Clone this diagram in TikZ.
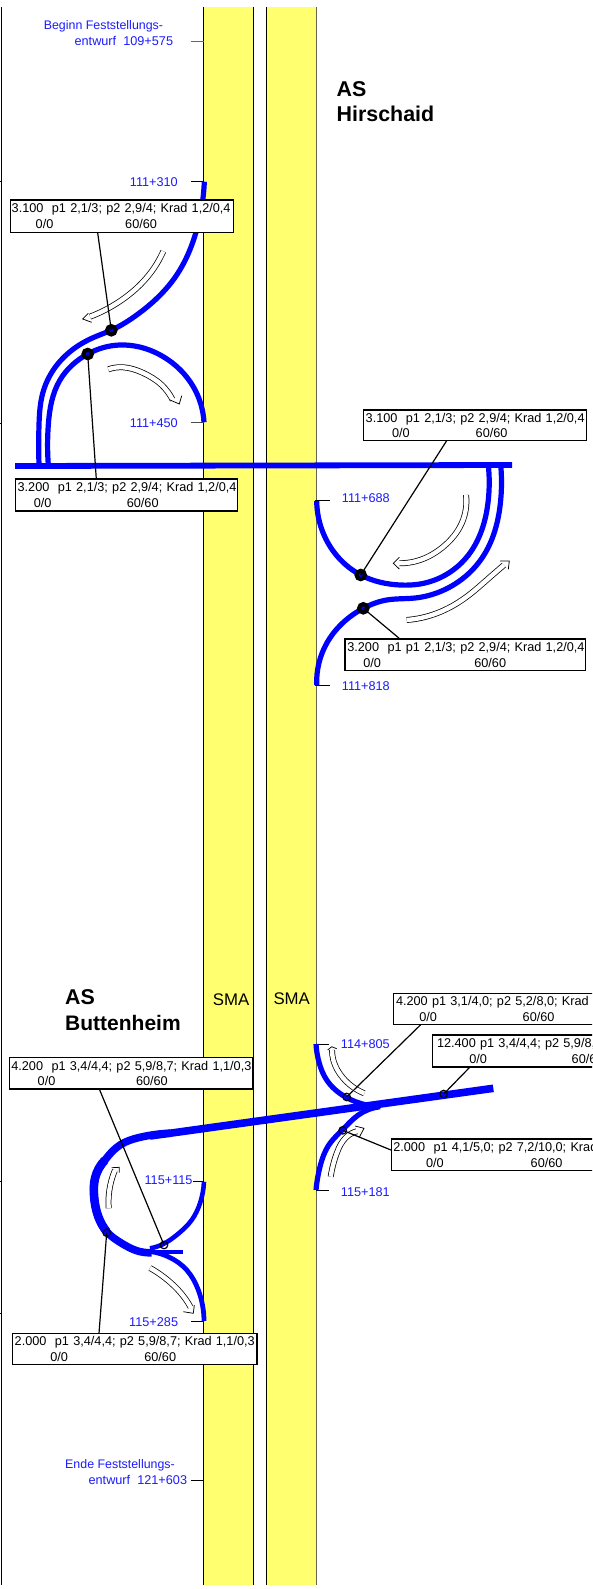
\documentclass[tikz,border=0pt]{standalone}
\usepackage{fontspec}
\usetikzlibrary{hobby}
\setmainfont{Liberation Sans}
\definecolor{stripy}{HTML}{FFFF70}
\definecolor{stripedge}{HTML}{66664A}
\definecolor{road}{HTML}{0000FF}
\definecolor{kmtext}{HTML}{1C1CFF}
\tikzset{
  road/.style={draw=road,line width=#1,line join=round,use Hobby shortcut},
  road/.default=5.2pt,
  boxnode/.style={draw=black,fill=white,line width=1.3pt,inner sep=0pt,outer sep=0pt,anchor=north west,align=left,font=\fontsize{12.7}{15.6}\selectfont},
  kmlabel/.style={text=kmtext,inner sep=0pt,font=\fontsize{12.7}{14.3}\selectfont},
  kmtitle/.style={text=kmtext,inner sep=0pt,font=\fontsize{12.4}{14.3}\selectfont},
  title/.style={inner sep=0pt,anchor=west,font=\fontsize{21.4}{25}\selectfont\bfseries},
  sma/.style={inner sep=0pt,anchor=west,font=\fontsize{16.8}{20}\selectfont},
  tickline/.style={draw=black,line width=.8pt},
  leader/.style={draw=black,line width=1.2pt},
  bigdot/.style={circle,draw=black,fill=road,line width=4pt,inner sep=0pt,minimum size=8.5pt},
  smalldot/.style={circle,draw=black,line width=1.2pt,inner sep=0pt,minimum size=7.5pt},
  shaft/.style={draw=black,line width=.75pt,double=white,double distance=4.4pt,use Hobby shortcut},
  head/.style={draw=black,fill=white,line width=.75pt,line join=miter},
}
\newcommand{\boxlines}[5]{\mbox{\hspace*{#1}#2}\\\mbox{\rlap{\hspace*{#4}#3}\hspace*{#5}60/60}}
\newcommand{\hollowarrow}[4]{%
  \draw[shaft] #1;
  \draw[head] #3 -- #2 -- #4;
}
\begin{document}
\begin{tikzpicture}[x=1pt,y=-1pt]
\clip (0,0) rectangle (592,1589);
\fill[white] (0,0) rectangle (592,1589);
% strips
\fill[stripy] (203.7,7) rectangle (253.7,1585);
\fill[stripy] (266.5,7) rectangle (316.8,1585);
\draw[black,line width=1pt] (203.7,7) -- (203.7,1585);
\draw[black,line width=1pt] (253.7,7) -- (253.7,1585);
\draw[black,line width=1pt] (266.5,7) -- (266.5,1585);
\draw[stripedge,line width=1.2pt] (316.8,7) -- (316.8,1585);
% left border
\draw[black,line width=1pt] (1.7,7) -- (1.7,1585);
\foreach \yy in {181.5,423,1181,1313}{\draw[black,line width=.8pt] (0,\yy) -- (1.7,\yy);}
% ticks
\draw[tickline,draw=black!60] (190.8,41) -- (203.7,41);
\draw[tickline] (190.8,181.7) -- (204,181.7);
\draw[tickline,draw=black!70] (190.8,422.5) -- (204,422.5);
\draw[tickline] (315,500) -- (330,500);
\draw[tickline] (315,685) -- (330,685);
\draw[tickline] (316,1044) -- (328.7,1044);
\draw[tickline] (316,1190.7) -- (328.7,1190.7);
\draw[tickline] (192.7,1181) -- (204,1181);
\draw[tickline] (191,1321) -- (204,1321);
\draw[tickline] (191,1480) -- (204,1480);
% road curves
\draw[draw=road,line width=5.8pt] (15.2,466) -- (512,465);
\draw[road] (204.3,181.7) .. (195.7,233.3) .. (176.7,275) .. (136.7,315) .. (111.7,330) .. (91.7,338.3) .. (70,351.7) .. (53.3,370) .. (42.7,393.3) .. (39,425) .. (39,465);
\draw[road] (48.3,465) .. (48.3,425) .. (60,380) .. (87.7,354) .. (106.7,346.7) .. (125,345) .. (163.3,356.7) .. (193.3,386.7) .. (204,422.3);
\draw[road] (488.3,465) .. (488.3,500) .. (466,558) .. (420,584) .. (400,585) .. (360.7,575) .. (324,535) .. (316.7,501);
\draw[road] (500.7,465) .. (500.7,500) .. (482,558) .. (440,591.7) .. (415,598) .. (386.7,600) .. (363.3,608.3) .. (326.7,643.3) .. (316.7,685);
\draw[draw=road,line width=7.6pt] (493.3,1088.3) -- (150,1136);
\draw[road=7.6pt] (170,1133.2) .. (140,1137.3) .. (120,1145) .. (105,1160) .. (95,1178.3) .. (94,1195) .. (98.3,1216.7) .. (106.7,1231.7) .. (121.7,1243.3) .. (136.7,1250.7) .. (151.7,1252.7);
\draw[road=8.6pt] (105,1160) .. (95,1178.3) .. (94,1195) .. (98.3,1216.7) .. (106.7,1231.7);
\draw[draw=road,line width=4.4pt] (146.7,1251.7) -- (183.3,1251.7);
\draw[road=4.8pt] (151.7,1251.7) .. (168.3,1256.7) .. (186.7,1270) .. (198.3,1290) .. (204,1321);
\draw[road=4.6pt] (204,1181.7) .. (200,1203.3) .. (191.7,1220) .. (176.7,1235) .. (163.3,1244) .. (150,1248.3);
\draw[road] (316,1044) .. (319.3,1063.3) .. (326.7,1080) .. (345,1096.7) .. (366.7,1105) .. (378.3,1106.7);
\draw[road] (316,1190) .. (320,1166.7) .. (330,1143.3) .. (342.3,1130) .. (358.3,1115) .. (380,1106.7);
% hollow arrows
\hollowarrow{(163.3,251.3) .. (151,272.3) .. (118.3,302.3) .. (90,316.7)}{(82.7,319)}{(88.3,313.3)}{(91.7,322.3)}
\hollowarrow{(108.3,369.3) .. (123.3,367.3) .. (141.7,372.3) .. (161.7,385) .. (172.7,400)}{(179.3,404)}{(170,400)}{(181.7,395.7)}
\hollowarrow{(466,495) .. (461.7,523.3) .. (443.3,546.7) .. (420,560) .. (399,563.3)}{(393.3,563.3)}{(399.3,557.3)}{(399.3,569)}
\hollowarrow{(406.7,620) .. (436.7,613.3) .. (466.7,596.7) .. (486.7,580) .. (504,565)}{(509.3,561)}{(500,561)}{(508.3,569.3)}
\hollowarrow{(364.3,1093.3) .. (343.3,1078.3) .. (333.3,1060) .. (332,1050)}{(331.7,1046.7)}{(327.7,1050)}{(336.7,1048.7)}
\hollowarrow{(330.7,1176.7) .. (336.7,1153.3) .. (346.7,1136.7) .. (358,1131)}{(364,1128.3)}{(355,1126)}{(359.3,1137.3)}
\hollowarrow{(108.7,1208.3) .. (109.3,1190.7) .. (115,1170)}{(119.3,1167.3)}{(111.7,1167.7)}{(119.3,1172.7)}
\hollowarrow{(150,1268) .. (170.7,1282.7) .. (185,1298.3) .. (191.7,1309.3)}{(193.3,1313.3)}{(183.3,1311.7)}{(194.3,1305)}
% dots
\node[bigdot] (d1) at (111.3,330.3) {};
\node[bigdot] (d2) at (87.7,354) {};
\node[bigdot] (d3) at (360.7,575) {};
\node[bigdot] (d4) at (363.3,608.3) {};
\node[smalldot] (d5) at (346.7,1097) {};
\node[smalldot] (d6) at (443.7,1094) {};
\node[smalldot] (d7) at (342.7,1130.3) {};
\node[smalldot] (d8) at (164,1245) {};
\node[smalldot] (d9) at (106.7,1232.7) {};
% boxes
\node[boxnode,minimum width=223pt,minimum height=32.5pt,text width=223pt] (bA) at (10.2,200) {\boxlines{1.5pt}{3.100\ \ p1 2,1/3; p2 2,9/4; Krad 1,2/0,4}{0/0}{25.5pt}{115pt}};
\node[boxnode,minimum width=222pt,minimum height=32pt,text width=222pt] (bB) at (15.8,479) {\boxlines{1.8pt}{3.200\ \ p1 2,1/3; p2 2,9/4; Krad 1,2/0,4}{0/0}{18pt}{111pt}};
\node[boxnode,minimum width=223.4pt,minimum height=30.7pt,text width=223.4pt] (bC) at (363.3,410) {\boxlines{2.4pt}{3.100\ \ p1 2,1/3; p2 2,9/4; Krad 1,2/0,4}{0/0}{28.7pt}{112.4pt}};
\node[boxnode,minimum width=240.3pt,minimum height=31.7pt,text width=240.3pt] (bD) at (345,639) {\boxlines{2.3pt}{3.200\ \ p1 p1 2,1/3; p2 2,9/4; Krad 1,2/0,4}{0/0}{18.3pt}{129.3pt}};
\node[boxnode,minimum width=260pt,minimum height=31.4pt,text width=260pt] (bE) at (393.7,993.3) {\boxlines{2.3pt}{4.200 p1 3,1/4,0; p2 5,2/8,0; Krad}{0/0}{25.6pt}{129pt}};
\node[boxnode,minimum width=260pt,minimum height=32pt,text width=260pt] (bF) at (432.7,1035) {\boxlines{4.3pt}{12.400 p1 3,4/4,4; p2 5,9/8,}{0/0}{36.6pt}{139pt}};
\node[boxnode,minimum width=260pt,minimum height=31.3pt,text width=260pt] (bG) at (391.7,1139) {\boxlines{1.6pt}{2.000\ \ p1 4,1/5,0; p2 7,2/10,0; Krad}{0/0}{34.3pt}{139pt}};
\node[boxnode,minimum width=243.4pt,minimum height=31.3pt,text width=243.4pt] (bH) at (9.3,1057.7) {\boxlines{2pt}{4.200\ \ p1 3,4/4,4; p2 5,9/8,7; Krad 1,1/0,3}{0/0}{28.4pt}{126.7pt}};
\node[boxnode,minimum width=244.3pt,minimum height=31pt,text width=244.3pt] (bI) at (12.7,1333.3) {\boxlines{2pt}{2.000\ \ p1 3,4/4,4; p2 5,9/8,7; Krad 1,1/0,3}{0/0}{37.6pt}{131.6pt}};
% leaders
\coordinate (lA) at (97.7,233);
\coordinate (lB) at (96.3,479);
\coordinate (lC) at (446.7,440.7);
\coordinate (lD) at (400,639);
\coordinate (lE) at (420.7,1024.7);
\coordinate (lF) at (470,1067);
\coordinate (lG) at (391.7,1150.3);
\coordinate (lH) at (99.3,1089);
\coordinate (lI) at (99,1333.3);
\draw[leader] (lA) -- (d1.center);
\draw[leader] (lB) -- (d2.center);
\draw[leader] (lC) -- (d3.center);
\draw[leader] (lD) -- (d4.center);
\draw[leader] (lE) -- (d5.center);
\draw[leader] (lF) -- (d6.center);
\draw[leader] (lG) -- (d7.center);
\draw[leader] (lH) -- (d8.center);
\draw[leader] (lI) -- (d9.center);
% km labels
\node[kmtitle,anchor=west] (k0a) at (43.6,26.5) {Beginn Feststellungs-};
\node[kmlabel,anchor=east] (k0b) at (173.3,41) {entwurf\ \ 109+575};
\node[kmlabel,anchor=east] (k1) at (178,181.8) {111+310};
\node[kmlabel,anchor=east] (k2) at (178,423.5) {111+450};
\node[kmlabel,anchor=west] (k3) at (341.7,497.7) {111+688};
\node[kmlabel,anchor=west] (k4) at (341.7,685.7) {111+818};
\node[kmlabel,anchor=west] (k5) at (340.7,1044) {114+805};
\node[kmlabel,anchor=west] (k6) at (340.7,1191.7) {115+181};
\node[kmlabel,anchor=east] (k7) at (192.7,1180) {115+115};
\node[kmlabel,anchor=east] (k8) at (178.3,1321.7) {115+285};
\node[kmtitle,anchor=west] (k9a) at (65,1465.7) {Ende Feststellungs-};
\node[kmlabel,anchor=east] (k9b) at (187.3,1480) {entwurf\ \ 121+603};
% titles
\node[title] (t1a) at (336.5,89.6) {AS};
\node[title] (t1b) at (336.5,114.3) {Hirschaid};
\node[title] (t2a) at (65,997.3) {AS};
\node[title,font=\fontsize{21}{25}\selectfont\bfseries] (t2b) at (65,1022.7) {Buttenheim};
\node[sma] (s1) at (212.7,999.3) {SMA};
\node[sma] (s2) at (273.3,998.3) {SMA};
\end{tikzpicture}
\end{document}
